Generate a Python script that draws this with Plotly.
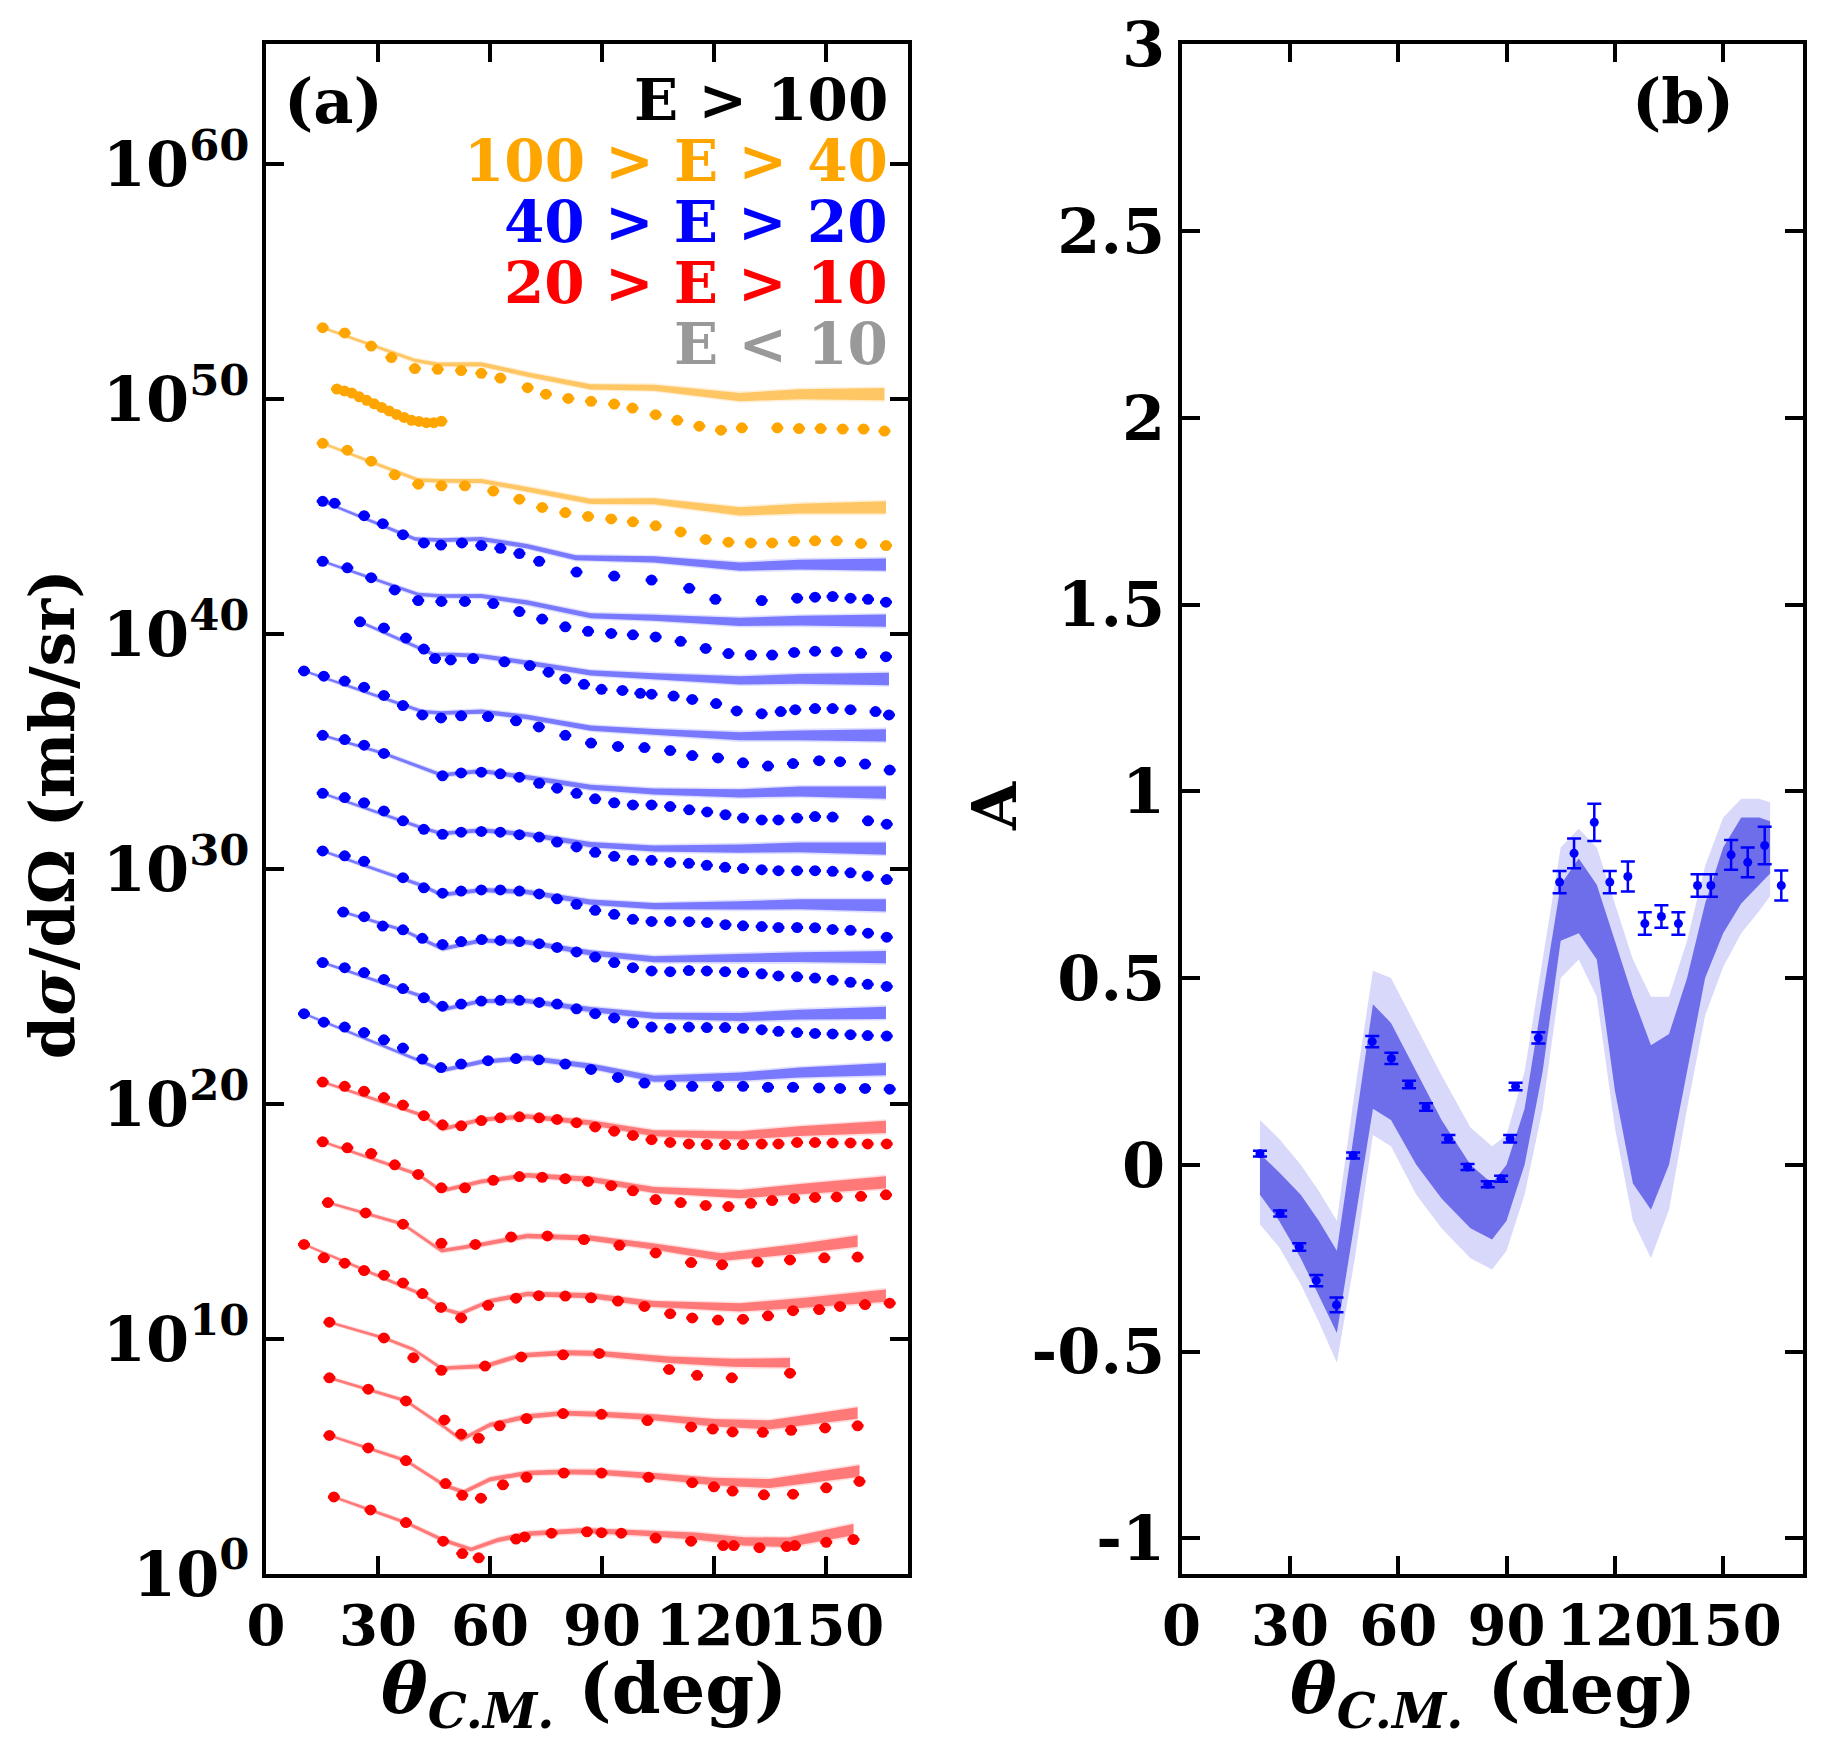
import numpy as np
import plotly.graph_objects as go

# ---- panel (a): angles (deg) and log10(dsigma/dOmega) ----
ang_a = [15.2, 21.1, 26.3, 31.6, 36.7, 42.3, 47.3, 52.3, 57.7, 62.8, 67.9, 73.2, 78.0, 83.2, 88.2, 93.3,
         98.3, 103.3, 108.3, 113.3, 118.1, 123.0, 127.8, 132.8, 137.3, 142.3, 147.1, 151.8, 156.6, 161.2, 166.3]
ang_b = [15.2, 21.8, 28.2, 34.5, 40.8, 47.0, 53.3, 60.9, 67.9, 74.0, 80.2, 86.3, 92.5, 98.3, 104.4, 111.1,
         117.8, 123.9, 129.9, 135.6, 141.5, 147.1, 152.9, 159.4, 166.1]
ang_c = [10.2, 15.5, 21.1, 26.3, 31.6, 36.7, 41.9, 46.9, 52.3, 59.5, 67.0, 73.1, 80.2, 87.1, 94.3, 101.4,
         108.3, 114.2, 121.1, 127.8, 134.5, 141.2, 148.2, 153.8, 160.5, 167.1]

o1_x = [15.2, 21.1, 28.2, 33.6, 39.9, 46.0, 52.3, 57.7, 62.8, 70.1, 75.0, 81.0, 87.1, 93.3, 98.2, 104.4,
        110.2, 116.1, 121.9, 127.5, 137.0, 142.8, 148.6, 154.5, 160.1, 165.7]
o1_y = [53.04, 52.82, 52.26, 51.77, 51.30, 51.27, 51.22, 51.10, 50.90, 50.49, 50.21, 50.03, 49.91, 49.79,
        49.62, 49.34, 49.10, 48.85, 48.68, 48.78, 48.78, 48.75, 48.75, 48.73, 48.73, 48.64]
o1_tx = [15.2, 39.9, 46.0, 57.7, 70.3, 87.0, 104.0, 127.0, 143.0, 165.7]
o1_ty = [53.04, 51.65, 51.48, 51.48, 51.04, 50.52, 50.49, 50.09, 50.21, 50.21]

o2_x = [19, 21, 23, 25, 27, 29, 31, 33, 35, 37, 39, 41, 43, 45, 47]
o2_y = [50.43, 50.35, 50.26, 50.1, 49.95, 49.8, 49.65, 49.5, 49.35, 49.22, 49.1, 49.05, 49.0, 49.0, 49.06]

o3_y = [48.12, 47.83, 47.36, 46.78, 46.38, 46.31, 46.31, 46.09, 45.74, 45.39, 45.17, 45.01, 44.90, 44.78,
        44.61, 44.35, 44.03, 43.91, 43.88, 43.88, 43.95, 43.97, 43.97, 43.86, 43.77]
o3_tx = [15.2, 40.8, 47.0, 57.7, 70.0, 87.0, 104.0, 127.0, 143.0, 166.1]
o3_ty = [48.12, 46.56, 46.52, 46.52, 46.17, 45.65, 45.65, 45.22, 45.34, 45.39]

b1_x = [15.2, 18.4, 26.3, 31.3, 36.7, 42.3, 46.9, 52.5, 57.7, 62.8, 67.9, 73.2, 83.2, 93.3, 103.3, 113.4,
        120.4, 132.8, 142.3, 147.1, 151.8, 156.6, 161.3, 166.1]
b1_y = [45.65, 45.57, 45.04, 44.70, 44.23, 43.88, 43.79, 43.88, 43.77, 43.65, 43.43, 43.10, 42.64, 42.47,
        42.30, 41.95, 41.48, 41.43, 41.53, 41.57, 41.60, 41.53, 41.48, 41.36]
b1_tx = [15.2, 40.0, 47.0, 57.7, 70.0, 83.0, 104.0, 127.0, 143.0, 166.1]
b1_ty = [45.65, 44.05, 44.0, 44.05, 43.74, 43.25, 43.18, 42.87, 42.96, 42.96]

b2_y = [43.10, 42.82, 42.40, 41.88, 41.43, 41.39, 41.39, 41.30, 40.96, 40.64, 40.31, 40.12, 40.03, 39.97,
        39.88, 39.69, 39.39, 39.17, 39.11, 39.11, 39.22, 39.27, 39.25, 39.18, 39.04]
b2_tx = [15.2, 40.8, 47.0, 57.7, 70.0, 87.0, 104.0, 127.0, 143.0, 166.1]
b2_ty = [43.1, 41.69, 41.62, 41.62, 41.34, 40.78, 40.70, 40.52, 40.57, 40.57]

b3_x = [25.2, 31.6, 37.5, 42.3, 45.3, 49.5, 55.5, 63.9, 70.7, 75.7, 80.2, 85.2, 89.9, 95.5, 100.3, 103.3,
        109.2, 114.2, 120.6, 126.1, 132.8, 137.9, 141.8, 147.1, 151.8, 156.6, 163.3, 166.9]
b3_y = [40.52, 40.26, 39.83, 39.36, 38.96, 38.90, 38.96, 38.82, 38.66, 38.38, 38.09, 37.86, 37.65, 37.60,
        37.48, 37.44, 37.36, 37.22, 37.04, 36.73, 36.61, 36.70, 36.78, 36.83, 36.83, 36.78, 36.70, 36.56]
b3_tx = [25.2, 45.0, 50.0, 57.0, 70.0, 87.0, 104.0, 127.0, 143.0, 166.9]
b3_ty = [40.52, 39.13, 39.13, 39.08, 38.78, 38.35, 38.21, 38.03, 38.09, 38.09]

b4_y = [38.43, 38.21, 38.0, 37.74, 37.39, 36.96, 36.56, 36.43, 36.52, 36.49, 36.31, 36.05, 35.69, 35.36,
        35.22, 35.17, 35.04, 34.83, 34.73, 34.52, 34.38, 34.49, 34.61, 34.57, 34.47, 34.21]
b4_tx = [10.2, 42.0, 47.0, 57.7, 70.0, 87.0, 104.0, 127.0, 143.0, 166.1]
b4_ty = [38.43, 36.70, 36.64, 36.70, 36.47, 36.0, 35.83, 35.65, 35.69, 35.69]

b5_x = [15.2, 21.1, 26.3, 31.6, 47.3, 52.3, 57.7, 62.8, 67.9, 73.2, 78.0, 83.2, 88.2, 93.3, 98.3, 103.3,
        108.3, 113.4, 118.2, 123.1, 127.8, 132.8, 137.3, 142.3, 147.1, 151.8, 161.3, 166.3]
b5_y = [35.69, 35.51, 35.27, 34.92, 33.97, 34.09, 34.12, 34.05, 33.91, 33.65, 33.44, 33.22, 32.99, 32.82,
        32.73, 32.73, 32.66, 32.52, 32.43, 32.31, 32.17, 32.09, 32.09, 32.17, 32.23, 32.21, 32.05, 31.91]
b5_tx = [15.2, 31.6, 47.0, 57.7, 70.0, 87.0, 104.0, 127.0, 143.0, 166.1]
b5_ty = [35.69, 34.92, 34.0, 34.17, 33.91, 33.48, 33.30, 33.22, 33.30, 33.25]

b6_y = [33.22, 33.04, 32.82, 32.47, 32.05, 31.69, 31.48, 31.57, 31.60, 31.57, 31.46, 31.36, 31.15, 30.94,
        30.71, 30.54, 30.37, 30.37, 30.28, 30.24, 30.16, 30.07, 30.02, 29.97, 29.93, 29.93, 29.93, 29.90,
        29.84, 29.70, 29.55]
b6_tx = [15.2, 42.0, 47.0, 57.7, 70.0, 87.0, 104.0, 127.0, 143.0, 166.1]
b6_ty = [33.22, 31.74, 31.51, 31.65, 31.48, 31.04, 30.87, 30.87, 30.92, 30.87]

b7_x = [15.2, 21.1, 26.3, 36.7, 42.3, 47.3, 52.3, 57.7, 62.8, 67.9, 73.2, 78.0, 83.2, 88.2, 93.3, 98.3,
        103.3, 108.3, 113.4, 118.2, 123.1, 127.8, 132.8, 137.3, 142.3, 147.1, 151.8, 156.6, 161.3, 166.3]
b7_y = [30.77, 30.56, 30.33, 29.63, 29.20, 28.97, 29.06, 29.11, 29.11, 29.06, 28.94, 28.73, 28.50, 28.24,
        28.07, 27.86, 27.77, 27.77, 27.76, 27.72, 27.63, 27.58, 27.55, 27.51, 27.51, 27.50, 27.43, 27.39,
        27.27, 27.10]
b7_tx = [15.2, 42.0, 47.0, 57.7, 70.0, 87.0, 104.0, 127.0, 143.0, 166.1]
b7_ty = [30.77, 29.29, 28.90, 29.11, 29.02, 28.59, 28.42, 28.45, 28.50, 28.45]

b8_x = [20.7, 26.3, 31.3, 36.7, 41.9, 47.3, 52.3, 57.8, 62.8, 67.9, 73.2, 78.0, 83.2, 88.2, 93.3, 98.3,
        103.3, 108.3, 113.3, 118.1, 123.0, 127.8, 132.8, 137.3, 142.3, 147.1, 151.8, 156.6, 161.2, 166.3]
b8_y = [28.17, 27.97, 27.57, 27.41, 27.05, 26.79, 26.91, 27.0, 26.96, 26.91, 26.82, 26.66, 26.47, 26.25,
        26.02, 25.80, 25.66, 25.63, 25.68, 25.66, 25.63, 25.59, 25.54, 25.45, 25.41, 25.36, 25.27, 25.18,
        25.09, 25.0]
b8_tx = [20.7, 36.7, 47.3, 57.7, 70.0, 87.0, 104.0, 127.0, 143.0, 166.1]
b8_ty = [28.17, 27.40, 26.60, 26.96, 26.88, 26.43, 26.16, 26.20, 26.25, 26.25]

b9_y = [26.02, 25.80, 25.59, 25.30, 24.91, 24.52, 24.16, 24.25, 24.38, 24.41, 24.41, 24.32, 24.25, 24.05,
        23.84, 23.66, 23.45, 23.27, 23.22, 23.27, 23.25, 23.25, 23.22, 23.16, 23.09, 23.04, 23.0, 22.98,
        22.95, 22.91, 22.89]
b9_tx = [15.2, 42.3, 47.3, 57.7, 70.0, 87.0, 104.0, 127.0, 143.0, 166.1]
b9_ty = [26.02, 24.55, 24.02, 24.38, 24.38, 24.02, 23.75, 23.70, 23.80, 23.88]

b10_y = [23.84, 23.48, 23.27, 23.04, 22.73, 22.38, 21.91, 21.55, 21.70, 21.84, 21.93, 21.88, 21.70, 21.47,
         21.13, 20.89, 20.80, 20.75, 20.75, 20.75, 20.71, 20.71, 20.68, 20.66, 20.66, 20.63]
b10_tx = [10.2, 42.0, 47.3, 57.7, 70.0, 87.0, 104.0, 127.0, 143.0, 166.1]
b10_ty = [23.84, 21.79, 21.43, 21.79, 21.96, 21.61, 21.07, 21.16, 21.34, 21.48]

r1_y = [20.93, 20.75, 20.54, 20.27, 19.95, 19.50, 19.11, 19.07, 19.29, 19.41, 19.45, 19.41, 19.34, 19.20,
        19.02, 18.84, 18.66, 18.48, 18.36, 18.30, 18.27, 18.27, 18.27, 18.30, 18.30, 18.36, 18.36, 18.34,
        18.34, 18.30, 18.30]
r1_tx = [15.2, 42.3, 47.3, 57.7, 70.0, 87.0, 104.0, 127.0, 143.0, 166.1]
r1_ty = [20.93, 19.50, 18.93, 19.34, 19.47, 19.20, 18.75, 18.66, 18.84, 19.02]

r2_y = [18.39, 18.13, 17.89, 17.41, 17.0, 16.43, 16.43, 16.75, 16.91, 16.88, 16.82, 16.70, 16.52, 16.30,
        15.93, 15.80, 15.68, 15.63, 15.77, 15.89, 15.98, 16.02, 16.04, 16.07, 16.13]
r2_tx = [15.2, 40.8, 47.0, 57.7, 70.0, 87.0, 104.0, 127.0, 143.0, 166.1]
r2_ty = [18.39, 17.0, 16.30, 16.70, 16.96, 16.79, 16.34, 16.16, 16.38, 16.66]

r3_x = [16.6, 26.7, 36.7, 47.0, 56.1, 65.7, 75.4, 85.2, 94.7, 104.4, 113.9, 122.2, 131.7, 140.4, 149.6, 158.5]
r3_y = [15.80, 15.36, 14.88, 14.07, 14.02, 14.34, 14.38, 14.23, 13.98, 13.66, 13.25, 13.16, 13.27, 13.36,
        13.45, 13.48]
r3_tx = [16.6, 36.7, 47.0, 57.7, 70.0, 87.0, 104.0, 122.0, 143.0, 158.5]
r3_ty = [15.8, 14.88, 13.75, 14.02, 14.38, 14.29, 13.93, 13.48, 13.84, 14.16]

r4_y = [14.02, 13.45, 13.22, 12.91, 12.71, 12.38, 11.93, 11.34, 10.89, 11.43, 11.73, 11.84, 11.82, 11.75,
        11.61, 11.38, 11.07, 10.89, 10.80, 10.84, 10.98, 11.20, 11.25, 11.38, 11.46, 11.52]
r4_tx = [10.2, 42.0, 48.0, 52.0, 60.0, 70.0, 87.0, 104.0, 127.0, 143.0, 166.1]
r4_ty = [14.02, 11.88, 11.25, 11.07, 11.61, 11.91, 11.84, 11.48, 11.34, 11.52, 11.84]

r5_x = [17.0, 31.6, 39.5, 47.0, 58.7, 68.4, 79.6, 89.3, 108.0, 115.5, 124.8, 140.4]
r5_y = [10.71, 10.04, 9.20, 8.66, 8.84, 9.23, 9.32, 9.38, 8.70, 8.45, 8.34, 8.54]
r5_tx = [17.0, 31.6, 39.5, 47.0, 58.7, 68.0, 80.0, 89.0, 108.0, 125.0, 140.4]
r5_ty = [10.71, 10.04, 9.55, 8.75, 8.84, 9.29, 9.41, 9.38, 9.11, 8.98, 8.98]

r6_x = [17.0, 27.4, 37.5, 47.8, 52.3, 57.0, 62.6, 69.8, 79.6, 89.9, 102.2, 113.9, 119.7, 125.0, 133.1,
        140.7, 149.8, 158.5]
r6_y = [8.34, 7.86, 7.36, 6.55, 5.95, 5.77, 6.30, 6.61, 6.82, 6.79, 6.52, 6.25, 6.16, 6.04, 6.02, 6.11,
        6.21, 6.30]
r6_tx = [17.0, 37.5, 47.8, 52.3, 60.0, 70.0, 80.0, 90.0, 104.0, 120.0, 135.0, 158.5]
r6_ty = [8.34, 7.36, 6.25, 5.71, 6.34, 6.70, 6.84, 6.79, 6.66, 6.43, 6.34, 6.84]

r7_x = [17.0, 27.4, 37.5, 48.1, 52.6, 57.6, 63.5, 69.8, 79.8, 89.9, 102.5, 114.2, 120.0, 125.0, 133.4,
        141.2, 150.1, 159.0]
r7_y = [5.89, 5.36, 4.82, 3.84, 3.34, 3.22, 3.79, 4.11, 4.29, 4.29, 4.11, 3.88, 3.70, 3.52, 3.36, 3.39,
        3.66, 3.93]
r7_tx = [17.0, 37.5, 48.0, 53.0, 60.0, 70.0, 80.0, 90.0, 104.0, 120.0, 135.0, 159.0]
r7_ty = [5.89, 4.82, 3.75, 3.48, 4.02, 4.29, 4.34, 4.32, 4.16, 3.93, 3.84, 4.38]

r8_x = [18.2, 28.0, 37.5, 47.5, 52.6, 57.0, 67.0, 69.3, 76.5, 86.0, 89.9, 95.2, 104.4, 113.9, 122.5, 125.3,
        132.2, 139.5, 141.7, 150.1, 157.4]
r8_y = [3.27, 2.72, 2.18, 1.39, 0.86, 0.68, 1.48, 1.57, 1.73, 1.79, 1.75, 1.73, 1.52, 1.39, 1.20, 1.20,
        1.11, 1.16, 1.20, 1.34, 1.46]
r8_tx = [18.2, 37.5, 47.5, 55.0, 62.0, 70.0, 85.0, 100.0, 115.0, 128.0, 140.0, 157.4]
r8_ty = [3.27, 2.18, 1.43, 1.04, 1.43, 1.70, 1.84, 1.75, 1.61, 1.38, 1.34, 1.88]

# theory band half-widths (decades) vs angle
band_ang = [0, 50, 100, 130, 170]
band_in = [0.04, 0.08, 0.12, 0.18, 0.27]
band_out = [0.07, 0.13, 0.18, 0.25, 0.34]

# ---- panel (b): analysing power ----
a_x = [21.7, 27.3, 32.6, 37.3, 42.9, 47.5, 52.8, 58.1, 63.0, 67.7, 73.9, 79.2, 84.8, 88.5, 91.0, 92.5,
       98.8, 104.7, 108.7, 114.3, 118.6, 123.6, 128.3, 132.9, 137.6, 142.9, 146.6, 152.2, 156.8, 161.5, 166.1]
a_y = [0.03, -0.13, -0.22, -0.31, -0.375, 0.025, 0.33, 0.285, 0.215, 0.155, 0.07, -0.006, -0.052, -0.037,
       0.07, 0.21, 0.34, 0.757, 0.834, 0.917, 0.757, 0.772, 0.646, 0.665, 0.646, 0.748, 0.748, 0.83, 0.81,
       0.855, 0.748]
a_err = [0.008, 0.008, 0.01, 0.015, 0.02, 0.008, 0.015, 0.015, 0.01, 0.01, 0.01, 0.008, 0.008, 0.008,
         0.01, 0.01, 0.015, 0.03, 0.04, 0.05, 0.03, 0.04, 0.03, 0.03, 0.03, 0.03, 0.03, 0.04, 0.04, 0.05, 0.04]
ab_x = [21.7, 27, 33, 38, 43, 48, 53, 58, 65, 72, 80, 86, 90, 95, 100, 105, 110, 115, 120, 125, 130, 135,
        140, 145, 150, 155, 160, 163]
ab_in_hi = [0.03, -0.02, -0.08, -0.15, -0.23, 0.1, 0.43, 0.38, 0.25, 0.12, 0.0, -0.05, 0.0, 0.15, 0.45,
            0.75, 0.82, 0.75, 0.6, 0.45, 0.32, 0.35, 0.5, 0.7, 0.85, 0.93, 0.93, 0.92]
ab_in_lo = [-0.08, -0.15, -0.25, -0.35, -0.45, -0.15, 0.15, 0.12, 0.0, -0.09, -0.17, -0.2, -0.15, 0.0,
            0.25, 0.6, 0.62, 0.55, 0.2, -0.05, -0.12, 0.0, 0.25, 0.5, 0.62, 0.7, 0.75, 0.78]
ab_out_hi = [0.12, 0.07, 0.0, -0.07, -0.15, 0.2, 0.52, 0.5, 0.37, 0.24, 0.1, 0.05, 0.08, 0.25, 0.55, 0.85,
             0.9, 0.85, 0.7, 0.55, 0.45, 0.45, 0.6, 0.8, 0.93, 0.98, 0.98, 0.97]
ab_out_lo = [-0.16, -0.22, -0.32, -0.42, -0.53, -0.25, 0.08, 0.05, -0.08, -0.17, -0.25, -0.28, -0.23, -0.08,
             0.15, 0.5, 0.55, 0.45, 0.1, -0.15, -0.25, -0.12, 0.15, 0.4, 0.53, 0.62, 0.68, 0.72]

ORANGE = ("#ffa500", "rgba(255,190,80,0.85)", "rgba(255,210,140,0.35)")
BLUE = ("#0000ff", "rgba(110,110,255,0.9)", "rgba(150,150,255,0.3)")
RED = ("#ff0000", "rgba(255,110,110,0.9)", "rgba(255,150,150,0.3)")

curves = [
    (o1_x, o1_y, o1_tx, o1_ty, ORANGE),
    (o2_x, o2_y, None, None, ORANGE),
    (ang_b, o3_y, o3_tx, o3_ty, ORANGE),
    (b1_x, b1_y, b1_tx, b1_ty, BLUE),
    (ang_b, b2_y, b2_tx, b2_ty, BLUE),
    (b3_x, b3_y, b3_tx, b3_ty, BLUE),
    (ang_c, b4_y, b4_tx, b4_ty, BLUE),
    (b5_x, b5_y, b5_tx, b5_ty, BLUE),
    (ang_a, b6_y, b6_tx, b6_ty, BLUE),
    (b7_x, b7_y, b7_tx, b7_ty, BLUE),
    (b8_x, b8_y, b8_tx, b8_ty, BLUE),
    (ang_a, b9_y, b9_tx, b9_ty, BLUE),
    (ang_c, b10_y, b10_tx, b10_ty, BLUE),
    (ang_a, r1_y, r1_tx, r1_ty, RED),
    (ang_b, r2_y, r2_tx, r2_ty, RED),
    (r3_x, r3_y, r3_tx, r3_ty, RED),
    (ang_c, r4_y, r4_tx, r4_ty, RED),
    (r5_x, r5_y, r5_tx, r5_ty, RED),
    (r6_x, r6_y, r6_tx, r6_ty, RED),
    (r7_x, r7_y, r7_tx, r7_ty, RED),
    (r8_x, r8_y, r8_tx, r8_ty, RED),
]

FONT = "DejaVu Serif"
fig = go.Figure()


def band(x, lo, hi, color, xa, ya, log=False):
    x = list(x)
    ys = list(hi) + list(lo)[::-1]
    if log:
        ys = [10.0 ** v for v in ys]
    fig.add_trace(go.Scatter(x=x + x[::-1], y=ys, fill="toself", fillcolor=color, mode="lines",
                             line=dict(width=0), hoverinfo="skip", xaxis=xa, yaxis=ya))


# theory bands first
for x, y, tx, ty, col in curves:
    if tx is None:
        continue
    tx = np.array(tx)
    ty = np.array(ty)
    w_in = np.interp(tx, band_ang, band_in)
    w_out = np.interp(tx, band_ang, band_out)
    band(tx, ty - w_out, ty + w_out, col[2], "x", "y", log=True)
    band(tx, ty - w_in, ty + w_in, col[1], "x", "y", log=True)

for x, y, tx, ty, col in curves:
    fig.add_trace(go.Scatter(x=x, y=[10.0 ** v for v in y], mode="markers",
                             marker=dict(color=col[0], size=11),
                             error_x=dict(type="constant", value=1.6, thickness=3, width=0, color=col[0]),
                             xaxis="x", yaxis="y"))

band(ab_x, ab_out_lo, ab_out_hi, "rgba(200,200,250,0.7)", "x2", "y2")
band(ab_x, ab_in_lo, ab_in_hi, "rgba(110,110,235,1)", "x2", "y2")
fig.add_trace(go.Scatter(x=a_x, y=a_y, mode="markers", marker=dict(color="#0000ff", size=9),
                         error_y=dict(type="data", array=a_err, thickness=2.5, width=7, color="#0000ff"),
                         xaxis="x2", yaxis="y2"))

axis_common = dict(showline=True, linewidth=4, linecolor="black", mirror="allticks", ticks="inside",
                   ticklen=18, tickwidth=4, tickcolor="black", showgrid=False, zeroline=False,
                   automargin=False, tickangle=0)
tick_big = dict(family=FONT, size=62, color="black", weight="bold")
tick_mid = dict(family=FONT, size=56, color="black", weight="bold")

decades = [0, 10, 20, 30, 40, 50, 60]
fig.update_layout(
    width=1800, height=1734, showlegend=False, plot_bgcolor="white", paper_bgcolor="white",
    margin=dict(l=0, r=0, t=0, b=0),
    xaxis=dict(domain=[0.1433, 0.5], range=[0, 172], tickvals=[0, 30, 60, 90, 120, 150], anchor="y",
               tickfont=tick_mid, **axis_common),
    yaxis=dict(domain=[0.097, 0.979], type="log", range=[0, 65.1], anchor="x",
               tickvals=[10.0 ** d for d in decades], ticktext=["10<sup>%d</sup>" % d for d in decades],
               tickfont=tick_big, **axis_common),
    xaxis2=dict(domain=[0.652, 0.997], range=[0, 172], tickvals=[0, 30, 60, 90, 120, 150], anchor="y2",
                tickfont=tick_mid, **axis_common),
    yaxis2=dict(domain=[0.097, 0.979], range=[-1.095, 3], anchor="x2",
                tickvals=[-1, -0.5, 0, 0.5, 1, 1.5, 2, 2.5, 3],
                ticktext=["-1", "-0.5", "0", "0.5", "1", "1.5", "2", "2.5", "3"],
                tickfont=tick_big, **axis_common),
)

ann = []
big = dict(family=FONT, size=62, color="black", weight="bold")
ann.append(dict(text="d<i>σ</i>/dΩ (mb/sr)", x=0.003, y=0.535, xref="paper", yref="paper", xanchor="left",
                yanchor="middle", textangle=-90, showarrow=False, font=big))
ann.append(dict(text="A", x=0.548, y=0.54, xref="paper", yref="paper", xanchor="center", yanchor="middle",
                textangle=-90, showarrow=False, font=big))
for xc in (0.32, 0.825):
    ann.append(dict(text="<i>θ</i><sub><i>C.M.</i></sub> (deg)", x=xc, y=0.0, xref="paper", yref="paper",
                    xanchor="center", yanchor="bottom", showarrow=False,
                    font=dict(family=FONT, size=70, color="black", weight="bold")))
ann.append(dict(text="(a)", x=0.152, y=0.968, xref="paper", yref="paper", xanchor="left", yanchor="top",
                showarrow=False, font=big))
ann.append(dict(text="(b)", x=0.96, y=0.968, xref="paper", yref="paper", xanchor="right", yanchor="top",
                showarrow=False, font=big))
legend_rows = [("E &gt; 100", "black"), ("100 &gt; E &gt; 40", "#ffa500"), ("40 &gt; E &gt; 20", "#0000ff"),
               ("20 &gt; E &gt; 10", "#ff0000"), ("E &lt; 10", "#999999")]
for i, (t, c) in enumerate(legend_rows):
    ann.append(dict(text=t, x=0.49, y=0.947 - i * 0.0352, xref="paper", yref="paper", xanchor="right",
                    yanchor="middle", showarrow=False,
                    font=dict(family=FONT, size=58, color=c, weight="bold")))
fig.update_layout(annotations=ann)

fig.write_html("out.html")
